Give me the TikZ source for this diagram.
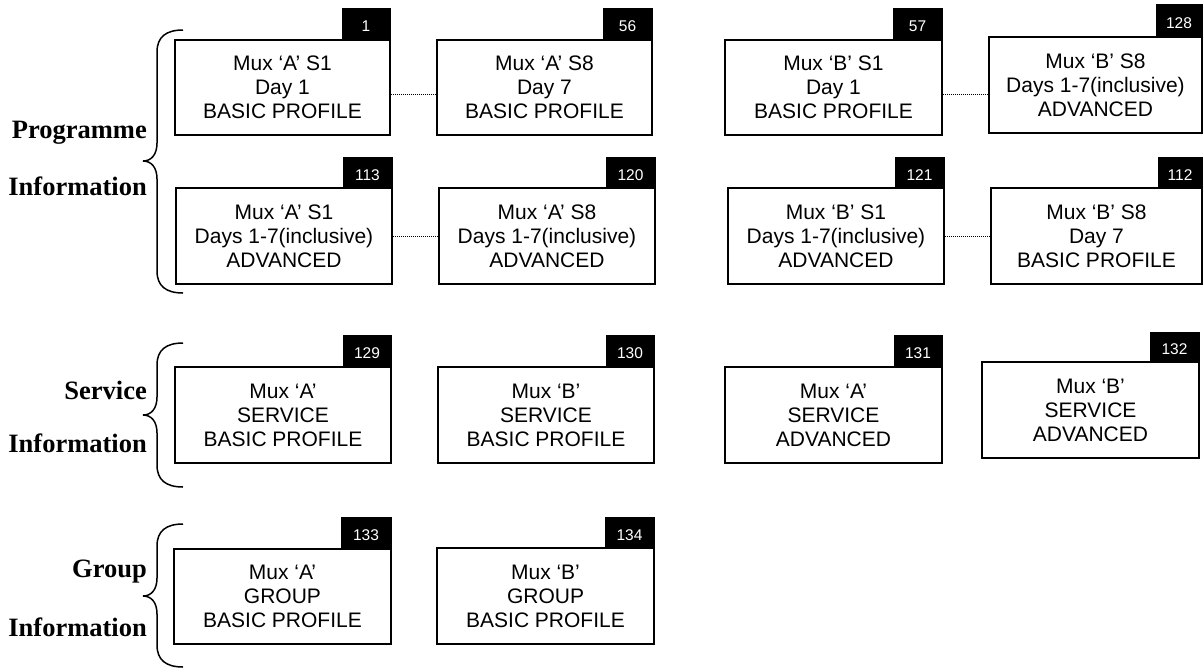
\documentclass[tikz,border=0pt]{standalone}
\usepackage{fontspec}
\setmainfont{Liberation Serif}
\newfontfamily\arialf{Liberation Sans}
\usetikzlibrary{fit}
\newcommand\ebox[9]{%
  \node[box, fit={(#2,#3)(#4,#5)}] (#1) {};
  \node[boxtext] (#1t) at (#1.center) {#9};
  \node[numtab, fit={(#6,#7)(#4,#3)}] (#1n) {};
  \node[numtext] (#1m) at ([yshift=-2.5pt]#1n.center) {#8};
}
\newcommand\myBrace[4]{% name top tip bottom
  \draw[bracel] (183,#2) .. controls (166,#2) and (157,#2+7) .. (157,#2+22)
    -- (157,#3-18) .. controls (157,#3-6) and (151,#3) .. (143,#3)
    .. controls (151,#3) and (157,#3+6) .. (157,#3+18)
    -- (157,#4-22) .. controls (157,#4-7) and (166,#4) .. (183,#4);
  \coordinate (#1) at (143,#3);
}
\begin{document}
\begin{tikzpicture}[x=1pt,y=-1pt,
  box/.style={draw=black, line width=1.5pt, inner sep=0pt},
  boxtext/.style={inner sep=0pt, align=center, anchor=center,
    font=\arialf\fontsize{21}{24}\selectfont},
  numtab/.style={fill=black, draw=black, line width=0.5pt, inner sep=0pt},
  numtext/.style={inner sep=0pt, text=white, anchor=center,
    font=\arialf\fontsize{15.5}{15.5}\selectfont},
  conn/.style={line width=0.9pt, dash pattern=on 0.9pt off 1.1pt},
  bracel/.style={line width=1.5pt},
  lbl/.style={anchor=east, font=\bfseries\fontsize{26.5}{26.5}\selectfont, inner sep=0pt}]
\useasboundingbox (0,0) rectangle (1204,670);
\fill[white] (0,0) rectangle (1204,670);

% Programme information
\ebox{b1}{175}{40}{390}{135}{342}{8}{1}{Mux ‘A’ S1\\Day 1\\BASIC PROFILE}
\ebox{b56}{437}{40}{652}{135}{603}{8}{56}{Mux ‘A’ S8\\Day 7\\BASIC PROFILE}
\ebox{b57}{725}{40}{942}{135}{893}{8}{57}{Mux ‘B’ S1\\Day 1\\BASIC PROFILE}
\ebox{b128}{989}{37}{1202}{133}{1156}{4}{128}{Mux ‘B’ S8\\Days 1-7(inclusive)\\ADVANCED}

\ebox{b113}{176}{188}{392}{284}{343}{157}{113}{Mux ‘A’ S1\\Days 1-7(inclusive)\\ADVANCED}
\ebox{b120}{439}{188}{655}{284}{606}{157}{120}{Mux ‘A’ S8\\Days 1-7(inclusive)\\ADVANCED}
\ebox{b121}{728}{188}{944}{284}{895}{157}{121}{Mux ‘B’ S1\\Days 1-7(inclusive)\\ADVANCED}
\ebox{b112}{991}{188}{1202}{284}{1158}{157}{112}{Mux ‘B’ S8\\Day 7\\BASIC PROFILE}

% Service information
\ebox{b129}{175}{367}{391}{463}{343}{335}{129}{Mux ‘A’\\SERVICE\\BASIC PROFILE}
\ebox{b130}{438}{367}{654}{463}{606}{335}{130}{Mux ‘B’\\SERVICE\\BASIC PROFILE}
\ebox{b131}{725}{367}{942}{463}{894}{335}{131}{Mux ‘A’\\SERVICE\\ADVANCED}
\ebox{b132}{982}{362}{1199}{458}{1150}{332}{132}{Mux ‘B’\\SERVICE\\ADVANCED}

% Group information
\ebox{b133}{174}{549}{391}{644}{341}{517}{133}{Mux ‘A’\\GROUP\\BASIC PROFILE}
\ebox{b134}{437}{548}{654}{644}{605}{517}{134}{Mux ‘B’\\GROUP\\BASIC PROFILE}

% dotted connectors
\coordinate (c1) at ([yshift=-6.5pt]b1.east);
\draw[conn] (c1) -- (c1 -| b56.west);
\coordinate (c2) at ([yshift=-6.5pt]b57.east);
\draw[conn] (c2) -- (c2 -| b128.west);
\draw[conn] (b113.east) -- (b120.west);
\draw[conn] (b121.east) -- (b112.west);

% braces
\myBrace{br1}{30}{161}{293}
\myBrace{br2}{343}{415}{487}
\myBrace{br3}{524}{596}{667}

% labels
\node[lbl] (l1a) at (147,133) {Programme};
\node[lbl] (l1b) at (147,186) {Information};
\node[lbl] (l2a) at (147,390) {Service};
\node[lbl] (l2b) at (147,443) {Information};
\node[lbl] (l3a) at (147,572) {Group};
\node[lbl] (l3b) at (147,627) {Information};
\end{tikzpicture}
\end{document}
